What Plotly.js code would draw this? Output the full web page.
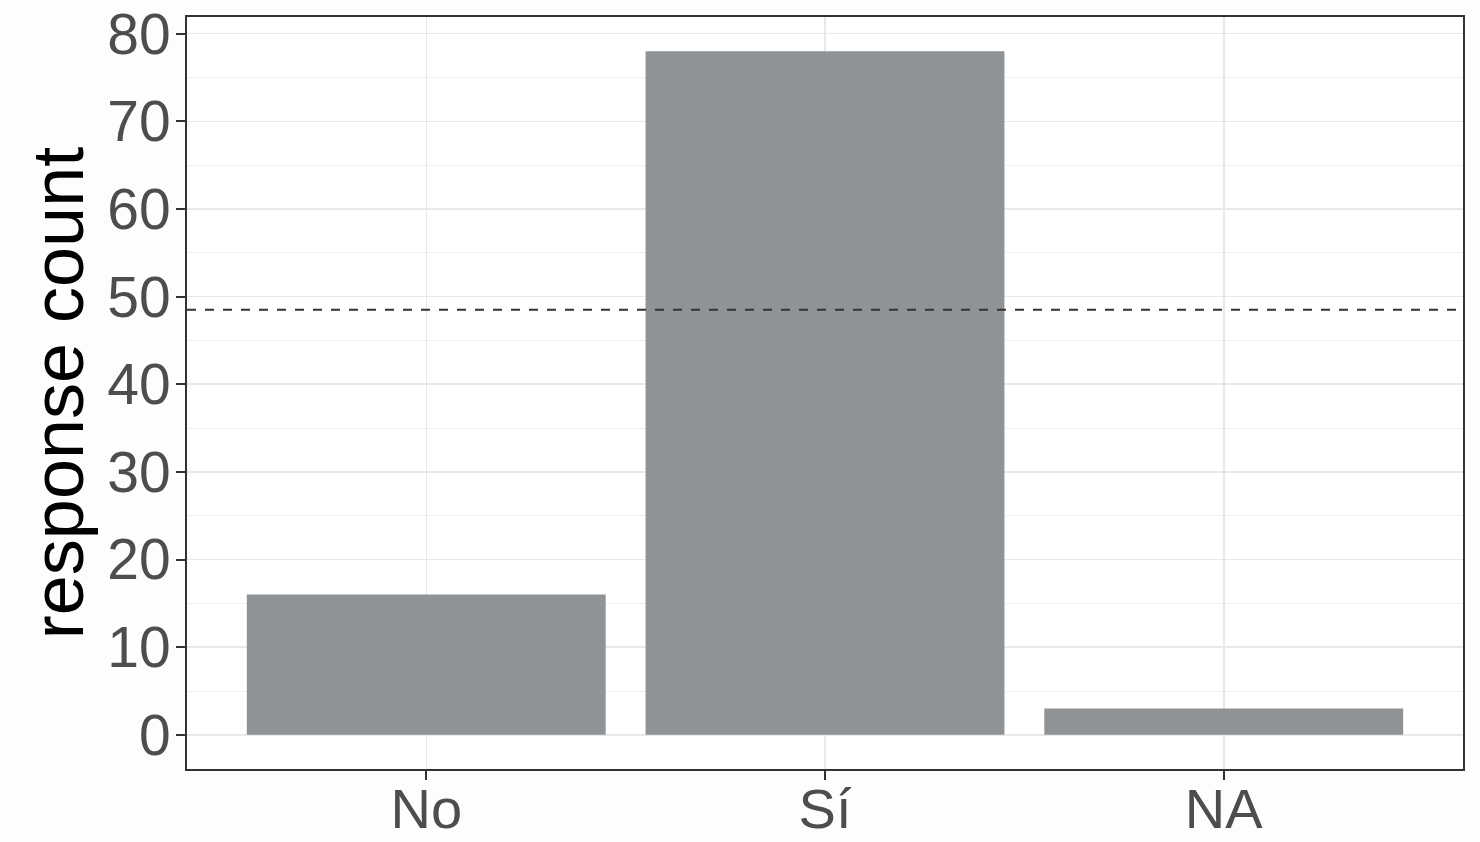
<!DOCTYPE html>
<html>
<head>
<meta charset="utf-8">
<script src="https://cdn.plot.ly/plotly-3.0.1.min.js"></script>
<style>html,body{margin:0;padding:0;background:#fdfdfd;}#chart{width:1480px;height:842px;}</style>
</head>
<body>
<div id="chart"></div>
<script>
const categories = ["No", "Sí", "NA"];
const counts = [16, 78, 3];
const referenceLine = 48.5;
const yTickValues = [0, 10, 20, 30, 40, 50, 60, 70, 80];
const yAxisTitle = "response count";

const data = [{
  type: "bar",
  x: categories,
  y: counts,
  width: 0.9,
  marker: {color: "#909396", line: {width: 0}},
  hoverinfo: "x+y"
}];

const layout = {
  width: 1480, height: 842,
  margin: {l: 187, r: 17, t: 17, b: 73},
  paper_bgcolor: "#fdfdfd",
  plot_bgcolor: "#ffffff",
  showlegend: false,
  font: {family: "Liberation Sans, Arial, sans-serif"},
  xaxis: {
    type: "category",
    range: [-0.6, 2.6],
    tickfont: {size: 56, color: "#4d4d4d"},
    ticks: "outside", ticklen: 9, tickwidth: 2, tickcolor: "#333333",
    ticklabelstandoff: -19,
    showgrid: true, gridcolor: "#e8e8e8", gridwidth: 1.5,
    showline: true, linecolor: "#333333", linewidth: 2, mirror: true,
    zeroline: false, fixedrange: true
  },
  yaxis: {
    range: [-3.9, 81.9],
    tickvals: yTickValues,
    tickfont: {size: 57, color: "#4d4d4d"},
    ticks: "outside", ticklen: 9, tickwidth: 2, tickcolor: "#333333",
    ticklabelstandoff: -6,
    showgrid: true, gridcolor: "#e8e8e8", gridwidth: 1.5,
    minor: {dtick: 5, tick0: 5, showgrid: true, gridcolor: "#f0f0f0", gridwidth: 1, ticks: ""},
    showline: true, linecolor: "#333333", linewidth: 2, mirror: true,
    zeroline: false, fixedrange: true,
    title: {text: yAxisTitle, font: {size: 72, color: "#000000"}, standoff: 0}
  },
  shapes: [{
    type: "line", xref: "paper", x0: 0, x1: 1, yref: "y", y0: referenceLine, y1: referenceLine,
    line: {color: "#333333", width: 2, dash: "9px,9px"}
  }]
};

Plotly.newPlot("chart", data, layout, {displayModeBar: false, staticPlot: true});
</script>
</body>
</html>
